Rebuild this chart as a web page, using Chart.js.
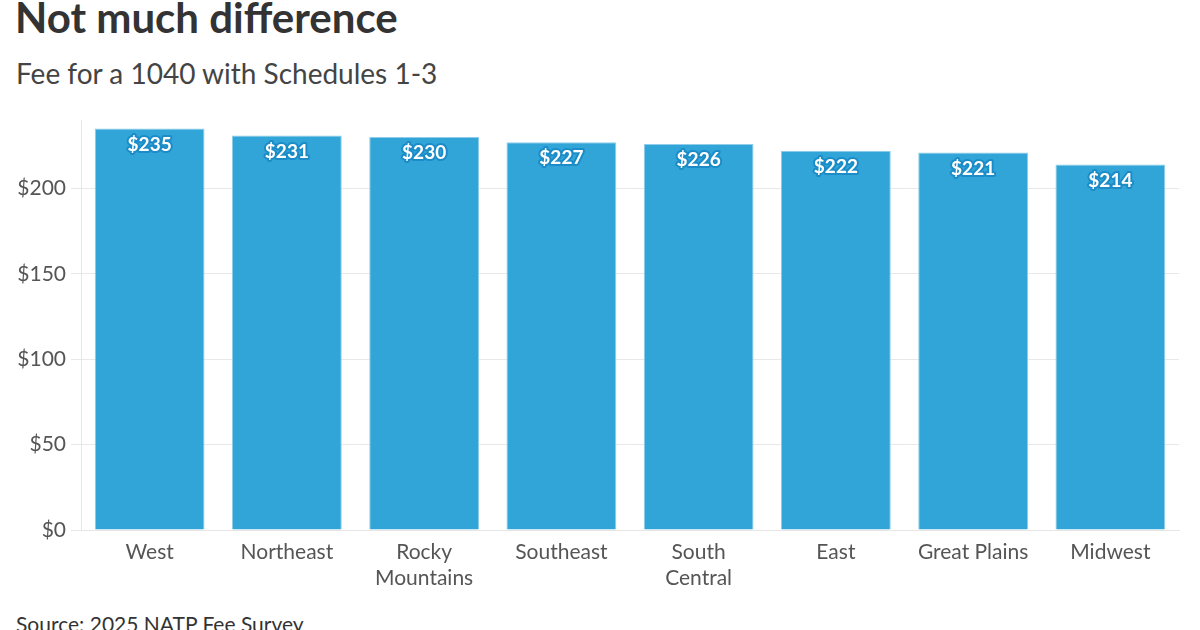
<!DOCTYPE html>
<html>
<head>
<meta charset="utf-8">
<script src="https://cdn.jsdelivr.net/npm/chart.js@4"></script>
<style>
  html, body { margin: 0; padding: 0; background: #fff; }
  body { width: 1200px; height: 630px; position: relative; overflow: hidden; font-family: Lato, sans-serif; }
  #title { position: absolute; left: 15px; top: -8px; font-size: 42px; font-weight: bold; color: #333; }
  #subtitle { position: absolute; left: 16px; top: 56px; font-size: 28px; color: #444; }
  #source { position: absolute; left: 16px; top: 611px; font-size: 21px; color: #333; }
  #wrap { position: absolute; left: 0; top: 100px; width: 1200px; height: 500px; }
</style>
</head>
<body>
<div id="title">Not much difference</div>
<div id="subtitle">Fee for a 1040 with Schedules 1-3</div>
<div id="wrap"><canvas id="feeChart"></canvas></div>
<div id="source">Source: 2025 NATP Fee Survey</div>
<script>
const regions = ['West', 'Northeast', ['Rocky', 'Mountains'], 'Southeast', ['South', 'Central'], 'East', 'Great Plains', 'Midwest'];
const fees = [235, 231, 230, 227, 226, 222, 221, 214];
const yTicks = [0, 50, 100, 150, 200];

// white labels with a blue halo, just inside the top of each bar
const barLabels = {
    id: 'barLabels',
    afterDatasetsDraw(chart) {
        const ctx = chart.ctx;
        const meta = chart.getDatasetMeta(0);
        ctx.save();
        ctx.font = 'bold 19px Lato';
        ctx.textAlign = 'center';
        ctx.textBaseline = 'middle';
        ctx.lineJoin = 'round';
        meta.data.forEach(function (bar, i) {
            const text = '$' + fees[i];
            const y = bar.y + 16;
            ctx.lineWidth = 4;
            ctx.strokeStyle = '#1b8cc7';
            ctx.strokeText(text, bar.x, y);
            ctx.fillStyle = '#ffffff';
            ctx.fillText(text, bar.x, y);
        });
        ctx.restore();
    }
};

const ctx = document.getElementById('feeChart').getContext('2d');
new Chart(ctx, {
    type: 'bar',
    data: {
        labels: regions,
        datasets: [
            {
                data: fees,
                backgroundColor: '#31a5d8',
                borderColor: '#8fcdea',
                borderWidth: 1,
                categoryPercentage: 1,
                barPercentage: 0.8
            }
        ]
    },
    plugins: [barLabels],
    options: {
        responsive: true,
        maintainAspectRatio: false,
        animation: false,
        layout: { padding: { top: 20, right: 21, left: 0, bottom: 0 } },
        plugins: {
            legend: { display: false },
            tooltip: { enabled: false }
        },
        scales: {
            x: {
                afterFit: function (scale) { scale.height = 70; },
                grid: { display: false, drawTicks: true },
                border: { color: '#e6e6e6' },
                ticks: {
                    color: '#555',
                    font: { family: 'Lato', size: 21 },
                    padding: 2,
                    maxRotation: 0
                }
            },
            y: {
                min: 0,
                max: 240,
                afterFit: function (scale) { scale.width = 81; },
                afterBuildTicks: function (scale) {
                    scale.ticks = yTicks.map(function (v) { return { value: v }; }).concat([{ value: 240 }]);
                },
                grid: {
                    color: function (c) { return c.tick && c.tick.value === 240 ? 'rgba(0,0,0,0)' : '#e8e8e8'; },
                    tickLength: 10
                },
                border: { color: '#e6e6e6' },
                ticks: {
                    color: '#555',
                    font: { family: 'Lato', size: 21 },
                    padding: 5,
                    callback: function (v) { return v === 240 ? '' : '$' + v; }
                }
            }
        }
    }
});
</script>
</body>
</html>
